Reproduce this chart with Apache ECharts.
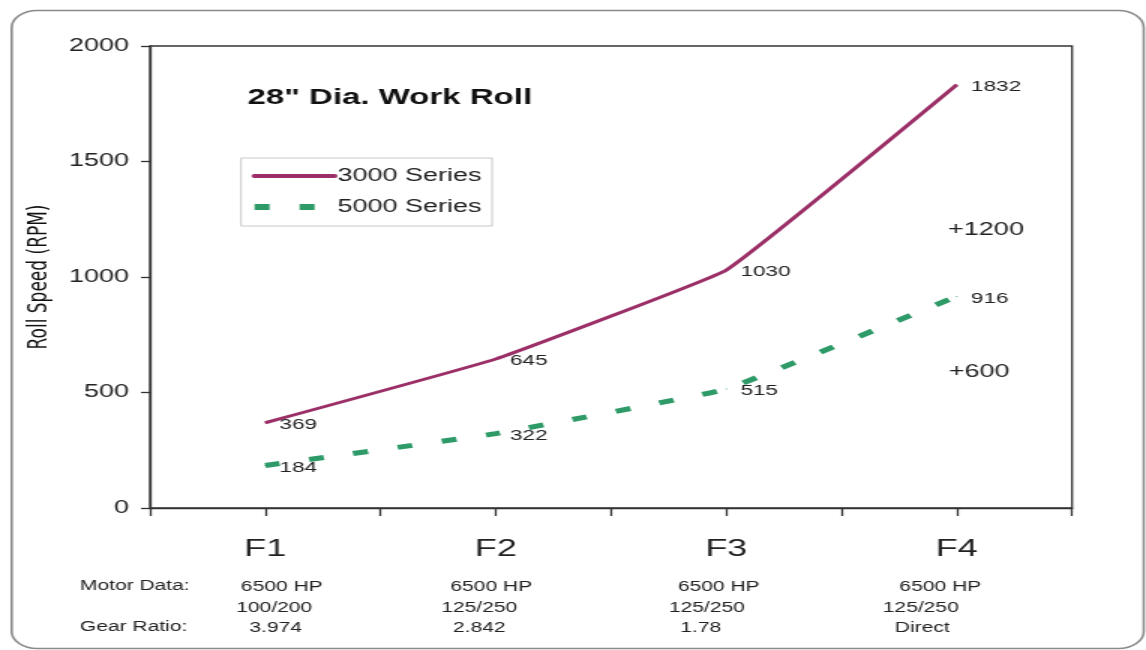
<!DOCTYPE html>
<html>
<head>
<meta charset="utf-8">
<script src="https://cdn.jsdelivr.net/npm/echarts@6/dist/echarts.min.js"></script>
<style>
html,body{margin:0;padding:0;background:#fff;overflow:hidden}
#c{width:764px;height:650px;transform:scaleX(1.5);transform-origin:0 0}
</style>
</head>
<body>
<div id="c"></div>
<script>
// The reference picture is horizontally stretched (x1.5); the chart is drawn at 764px and stretched by CSS.
const categories = ['F1', 'F2', 'F3', 'F4'];
const series3000 = [369, 645, 1030, 1832];
const series5000 = [184, 322, 515, 916];
const motorHP = ['6500 HP', '6500 HP', '6500 HP', '6500 HP'];
const motorSpeed = ['100/200', '125/250', '125/250', '125/250'];
const gearRatio = ['3.974', '2.842', '1.78', 'Direct'];
const annotTexts = ['+1200', '+600'];
const annotValues = [1200, 600];
const yTicks = [0, 500, 1000, 1500, 2000];

// layout: horizontal shift (chart px) of each sub-label row under each category
const rowShift = [[11, 6, 7], [-3, -11, -11], [-5, -13, -17], [-11, -24, -23]];

const FONT = '"Liberation Sans", Arial, sans-serif';
const chart = echarts.init(document.getElementById('c'), null, {renderer: 'canvas'});

function pad(d) { return d >= 0 ? [0, 0, 0, 2 * d] : [0, -2 * d, 0, 0]; }
const rich = {c: {fontSize: 24, lineHeight: 56, color: '#222', fontFamily: FONT}};
rowShift.forEach(function (r, i) {
  r.forEach(function (d, j) {
    rich['r' + i + '_' + j] = {fontSize: 14, lineHeight: 20.5, color: '#222', fontFamily: FONT, padding: pad(d)};
  });
});

const labelStyle = {show: true, position: 'right', distance: 9, offset: [0, 2], fontSize: 15, color: '#222', fontFamily: FONT};

chart.setOption({
  animation: false,
  backgroundColor: '#fff',
  textStyle: {fontFamily: FONT},
  title: {
    text: '28" Dia. Work Roll',
    left: 165, top: 87, padding: 0,
    textStyle: {fontSize: 22, fontWeight: 'bold', color: '#111', fontFamily: FONT}
  },
  legend: {
    orient: 'vertical',
    left: 160.7, top: 158,
    itemWidth: 53.3, itemHeight: 14, itemGap: 13,
    padding: [9, 7, 10, 6],
    borderColor: '#c8c8c8', borderWidth: 1,
    backgroundColor: '#fff',
    itemStyle: {opacity: 0},
    textStyle: {fontSize: 18, color: '#222', fontFamily: FONT, padding: [0, 0, 0, -3]},
    data: [
      {name: '3000 Series', itemStyle: {opacity: 0}, lineStyle: {width: 4, color: '#9b2f67', type: 'solid', cap: 'round', opacity: 1}},
      {name: '5000 Series', itemStyle: {opacity: 0}, lineStyle: {width: 6, color: '#2e9a68', type: [10, 20], cap: 'butt', opacity: 1}}
    ]
  },
  grid: {
    left: 100, right: 49.3, top: 46, bottom: 142,
    show: true, borderColor: '#333', borderWidth: 1.3, backgroundColor: 'transparent'
  },
  xAxis: [{
    type: 'category',
    data: categories,
    position: 'bottom',
    boundaryGap: true,
    axisLine: {lineStyle: {color: '#333', width: 1.3}},
    axisTick: {show: true, length: 8, lineStyle: {color: '#333', width: 1.3}},
    axisLabel: {
      margin: 13,
      interval: 0,
      formatter: function (v, i) {
        return '{c|' + v + '}\n{r' + i + '_0|' + motorHP[i] + '}\n{r' + i + '_1|' + motorSpeed[i] + '}\n{r' + i + '_2|' + gearRatio[i] + '}';
      },
      rich: rich
    }
  }, {
    type: 'category',
    data: categories,
    position: 'bottom',
    offset: 0,
    boundaryGap: true,
    axisLine: {show: false},
    axisTick: {show: true, alignWithLabel: true, length: 8, lineStyle: {color: '#333', width: 1.3}},
    axisLabel: {show: false}
  }],
  yAxis: {
    type: 'value',
    min: 0, max: 2000, interval: 500,
    name: 'Roll Speed (RPM)',
    nameLocation: 'middle',
    nameGap: 64,
    nameRotate: 90,
    nameTextStyle: {fontSize: 17, color: '#111', fontFamily: '"DejaVu Sans", sans-serif'},
    axisLine: {show: true, lineStyle: {color: '#333', width: 1.3}},
    axisTick: {show: true, length: 6, lineStyle: {color: '#333', width: 1.3}},
    splitLine: {show: false},
    axisLabel: {
      margin: 14, fontSize: 18, color: '#222', fontFamily: FONT,
      formatter: function (v) { return yTicks.indexOf(v) >= 0 ? String(v) : ''; }
    }
  },
  series: [{
    name: '3000 Series',
    type: 'line',
    data: series3000,
    smooth: 0.08,
    symbol: 'circle',
    symbolSize: 1,
    showSymbol: true,
    lineStyle: {color: '#9b2f67', width: 3},
    itemStyle: {color: '#9b2f67'},
    label: labelStyle,
    markPoint: {
      symbol: 'circle', symbolSize: 0,
      label: {show: true, fontSize: 18, color: '#222', fontFamily: FONT, position: 'inside'},
      data: [
        {coord: [categories[3], annotValues[0]], value: annotTexts[0], label: {formatter: annotTexts[0], offset: [19.5, -1]}},
        {coord: [categories[3], annotValues[1]], value: annotTexts[1], label: {formatter: annotTexts[1], offset: [15, 3]}}
      ]
    }
  }, {
    name: '5000 Series',
    type: 'line',
    data: series5000,
    smooth: 0.08,
    symbol: 'circle',
    symbolSize: 1,
    showSymbol: true,
    lineStyle: {color: '#2e9a68', width: 5, type: [10, 20], cap: 'butt'},
    itemStyle: {color: '#2e9a68'},
    label: labelStyle
  }],
  graphic: [
    {type: 'rect', left: 5.3, top: 8, shape: {width: 754.7, height: 638, r: 17}, style: {fill: 'none', stroke: '#8a8a8a', lineWidth: 1.6}, z: -1, silent: true},
    {type: 'text', left: 53.3, top: 579, style: {text: 'Motor Data:', fontSize: 14, fill: '#222', fontFamily: FONT}},
    {type: 'text', left: 53.3, top: 620, style: {text: 'Gear Ratio:', fontSize: 14, fill: '#222', fontFamily: FONT}}
  ]
});
</script>
</body>
</html>
